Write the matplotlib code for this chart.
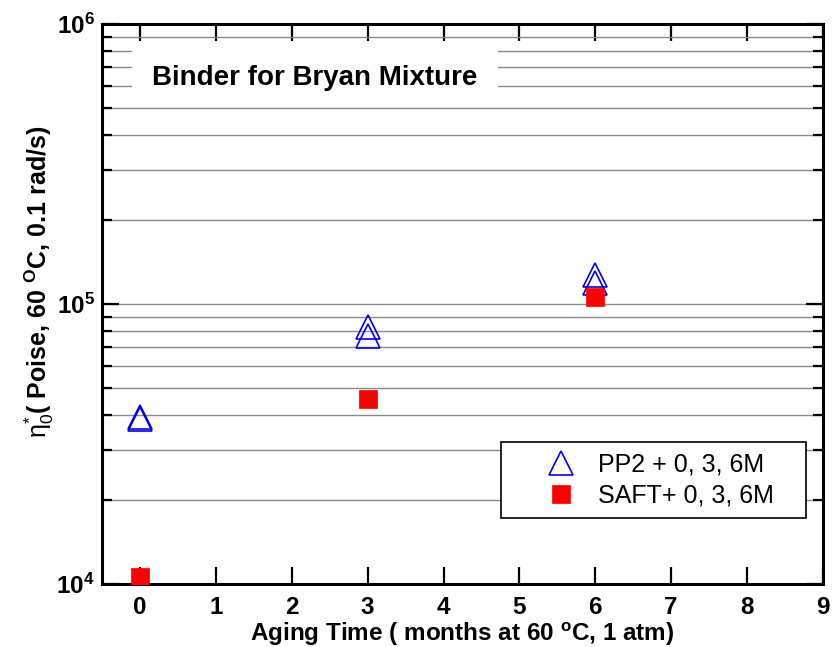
import matplotlib
matplotlib.use("Agg")
import matplotlib.pyplot as plt
from matplotlib.patches import Rectangle
from matplotlib.ticker import LogLocator, NullFormatter

plt.rcParams['font.family'] = ['Liberation Sans', 'DejaVu Sans']
plt.rcParams['mathtext.fontset'] = 'custom'
plt.rcParams['mathtext.rm'] = 'Liberation Sans'
plt.rcParams['mathtext.it'] = 'Liberation Sans:italic'
plt.rcParams['mathtext.bf'] = 'Liberation Sans:bold'

# data
pp2_months = [0, 0, 3, 3, 6, 6]
pp2_eta = [38700, 39600, 82800, 76900, 126600, 118500]
saft_months = [0, 3, 6]
saft_eta = [10600, 45700, 106200]

x_ticks = list(range(10))
y_ticks = [1e4, 1e5, 1e6]
y_tick_labels = [r'$\mathbf{10^{4}}$', r'$\mathbf{10^{5}}$', r'$\mathbf{10^{6}}$']

fig = plt.figure(figsize=(8.34, 6.47), dpi=100)
ax = fig.add_axes([0.1223, 0.0974, 0.8645, 0.8655])

ax.plot(pp2_months, pp2_eta, linestyle='none', marker='^', ms=17, mfc='none',
        mec='blue', mew=1.2, label='PP2 + 0, 3, 6M', zorder=4)
ax.plot(saft_months, saft_eta, linestyle='none', marker='s', ms=13, mfc='red',
        mec='red', mew=0.5, label='SAFT+ 0, 3, 6M', zorder=5)

ax.set_yscale('log')
ax.set_xlim(-0.5, 9)
ax.set_ylim(1e4, 1e6)

ax.set_xticks(x_ticks)
ax.set_xticklabels([str(t) for t in x_ticks], fontsize=17.5, fontweight='bold')
ax.set_yticks(y_ticks)
ax.set_yticklabels(y_tick_labels, fontsize=17.5)
ax.yaxis.set_minor_locator(LogLocator(base=10, subs=range(2, 10)))
ax.yaxis.set_minor_formatter(NullFormatter())

ax.tick_params(axis='both', which='major', direction='in', length=12, width=1.6,
               top=True, right=True)
ax.tick_params(axis='y', which='minor', direction='in', length=7, width=1.6,
               right=True)
ax.tick_params(axis='x', which='major', pad=9)
ax.tick_params(axis='y', which='major', pad=5)

for s in ax.spines.values():
    s.set_linewidth(2.2)

ax.grid(True, axis='y', which='both', color='#8a8a8a', linewidth=1)

ax.set_xlabel(r'Aging Time ( months at 60 $^{\mathbf{o}}$C, 1 atm)',
              fontsize=17.5, fontweight='bold', labelpad=1)
ax.set_ylabel(r'$\mathrm{\eta}^{*}_{0}$( Poise, 60 $^{\mathbf{O}}$C, 0.1 rad/s)',
              fontsize=18, fontweight='bold')
ax.yaxis.set_label_coords(-0.064, 0.54)

# white box behind the title (covers the grid lines)
ax.add_patch(Rectangle((0.0417, 0.857), 0.507, 0.107, transform=ax.transAxes,
                       facecolor='white', edgecolor='none', zorder=2))
ax.text(0.069, 0.891, 'Binder for Bryan Mixture', transform=ax.transAxes,
        fontsize=20, fontweight='bold', va='baseline', ha='left', zorder=3)

leg = ax.legend(loc='lower left', bbox_to_anchor=(0.553, 0.118, 0.423, 0.1),
                mode='expand', borderaxespad=0, fontsize=18, fancybox=False,
                edgecolor='black', framealpha=1, borderpad=0.4,
                labelspacing=0.3, handlelength=4.0, handletextpad=-0.5,
                numpoints=1)
leg.get_frame().set_linewidth(1.2)

fig.savefig('out.png', dpi=100)
